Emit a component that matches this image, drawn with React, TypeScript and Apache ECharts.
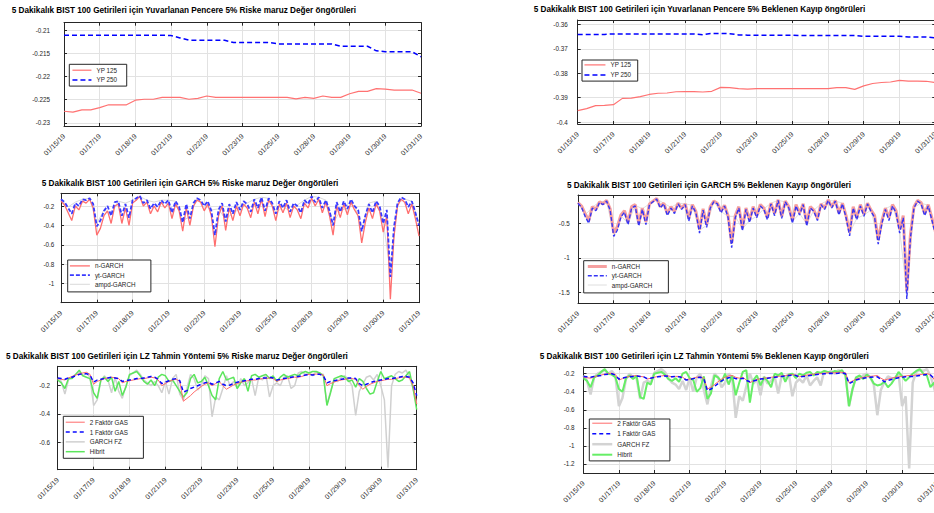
import React, { useEffect, useRef } from 'react';
import * as echarts from 'echarts';

const FONT = '"Liberation Sans", Arial, Helvetica, sans-serif';
const AX = '#262626';
const GRIDC = '#e2e2e2';

const dateLabels = ['01/15/19', '01/17/19', '01/18/19', '01/21/19', '01/22/19', '01/23/19', '01/25/19', '01/28/19', '01/29/19', '01/30/19', '01/31/19'];

const yTicksWinVaR = [-0.23, -0.225, -0.22, -0.215, -0.21];
const yTicksWinES = [-0.4, -0.39, -0.38, -0.37, -0.36];
const yTicksGarchVaR = [-1, -0.8, -0.6, -0.4, -0.2];
const yTicksGarchES = [-1.5, -1, -0.5];
const yTicksLzVaR = [-0.6, -0.4, -0.2];
const yTicksLzES = [-1.2, -1, -0.8, -0.6, -0.4, -0.2];

// Rolling window (Yuvarlanan Pencere)
const yp125VaR = [-0.2275, -0.2277, -0.2272, -0.2272, -0.2267, -0.2261, -0.2261, -0.2261, -0.2251, -0.2249, -0.2249, -0.2245, -0.2245, -0.2245, -0.2249, -0.2247, -0.2242, -0.2245, -0.2245, -0.2245, -0.2245, -0.2245, -0.2245, -0.2245, -0.2245, -0.2245, -0.2248, -0.2245, -0.2247, -0.2242, -0.2245, -0.2245, -0.2237, -0.2232, -0.2232, -0.2226, -0.2227, -0.2229, -0.2229, -0.2229, -0.2236];
const yp250VaR = [-0.211, -0.211, -0.211, -0.211, -0.211, -0.211, -0.211, -0.211, -0.211, -0.211, -0.211, -0.211, -0.2111, -0.2116, -0.2121, -0.2121, -0.2121, -0.2121, -0.2121, -0.2126, -0.2126, -0.2126, -0.2126, -0.2126, -0.2129, -0.2129, -0.2129, -0.2129, -0.2129, -0.2129, -0.2129, -0.2134, -0.2134, -0.2134, -0.2134, -0.2144, -0.2146, -0.2146, -0.2146, -0.2146, -0.2157];
const yp125ES = [-0.3953, -0.3945, -0.3933, -0.3932, -0.3929, -0.3903, -0.3902, -0.3896, -0.3887, -0.3882, -0.3881, -0.3876, -0.3875, -0.3875, -0.3877, -0.3874, -0.3858, -0.3859, -0.3863, -0.3865, -0.3863, -0.3863, -0.3863, -0.3863, -0.3863, -0.3863, -0.3863, -0.3863, -0.3863, -0.3859, -0.3859, -0.3866, -0.3852, -0.3842, -0.3838, -0.3836, -0.3829, -0.3832, -0.3832, -0.3833, -0.3838];
const yp250ES = [-0.3641, -0.3641, -0.3641, -0.3641, -0.3639, -0.3639, -0.3639, -0.3639, -0.3639, -0.3639, -0.3639, -0.3639, -0.3639, -0.3639, -0.3642, -0.3637, -0.3637, -0.3638, -0.3643, -0.3644, -0.3644, -0.3644, -0.3644, -0.3644, -0.3644, -0.3646, -0.3646, -0.3646, -0.3646, -0.3646, -0.3646, -0.3646, -0.3649, -0.3649, -0.3649, -0.3649, -0.3649, -0.3652, -0.3652, -0.3652, -0.3655];

// GARCH
const nGarchVaR = [
  -0.15, -0.19, -0.27, -0.35, -0.2, -0.24, -0.15, -0.17, -0.13, -0.22,
  -0.5, -0.43, -0.3, -0.25, -0.38, -0.2, -0.18, -0.38, -0.22, -0.4,
  -0.17, -0.14, -0.1, -0.2, -0.16, -0.28, -0.2, -0.26, -0.16, -0.22,
  -0.17, -0.33, -0.18, -0.25, -0.46, -0.22, -0.4, -0.2, -0.14, -0.16,
  -0.25, -0.18, -0.3, -0.62, -0.3, -0.2, -0.45, -0.22, -0.35, -0.2,
  -0.3, -0.18, -0.22, -0.32, -0.16, -0.28, -0.13, -0.31, -0.14, -0.2,
  -0.35, -0.18, -0.27, -0.17, -0.32, -0.2, -0.24, -0.33, -0.17, -0.22,
  -0.12, -0.2, -0.13, -0.27, -0.16, -0.3, -0.5, -0.2, -0.32, -0.18,
  -0.29, -0.16, -0.24, -0.3, -0.58, -0.37, -0.22, -0.33, -0.18, -0.25,
  -0.47, -0.3, -1.16, -0.52, -0.2, -0.13, -0.16, -0.28, -0.18, -0.33,
  -0.51];
const ytGarchVaR = [
  -0.13, -0.16, -0.22, -0.28, -0.17, -0.2, -0.13, -0.14, -0.12, -0.18,
  -0.41, -0.35, -0.25, -0.2, -0.3, -0.16, -0.15, -0.3, -0.18, -0.32,
  -0.14, -0.12, -0.095, -0.17, -0.14, -0.23, -0.17, -0.21, -0.14, -0.18,
  -0.14, -0.27, -0.15, -0.21, -0.37, -0.18, -0.33, -0.17, -0.12, -0.14,
  -0.2, -0.15, -0.25, -0.5, -0.24, -0.17, -0.36, -0.18, -0.28, -0.16,
  -0.24, -0.15, -0.18, -0.26, -0.13, -0.22, -0.11, -0.25, -0.12, -0.17,
  -0.28, -0.15, -0.22, -0.14, -0.26, -0.17, -0.2, -0.27, -0.14, -0.18,
  -0.1, -0.16, -0.11, -0.22, -0.14, -0.25, -0.4, -0.16, -0.26, -0.15,
  -0.23, -0.13, -0.2, -0.24, -0.46, -0.3, -0.18, -0.27, -0.15, -0.2,
  -0.38, -0.24, -0.93, -0.42, -0.17, -0.11, -0.13, -0.21, -0.15, -0.27,
  -0.4];
const ampdGarchVaR = [
  -0.13, -0.21, -0.16, -0.13, -0.12, -0.38, -0.24, -0.28, -0.15, -0.17,
  -0.14, -0.1, -0.14, -0.16, -0.14, -0.14, -0.15, -0.35, -0.31, -0.12,
  -0.19, -0.24, -0.23, -0.34, -0.27, -0.23, -0.17, -0.13, -0.11, -0.12,
  -0.27, -0.21, -0.25, -0.19, -0.14, -0.1, -0.11, -0.14, -0.38, -0.25,
  -0.22, -0.19, -0.44, -0.17, -0.15, -0.36, -0.88, -0.17, -0.13, -0.15,
  -0.38];
const nGarchES = [
  -0.2, -0.25, -0.36, -0.46, -0.26, -0.3, -0.19, -0.22, -0.17, -0.29,
  -0.64, -0.55, -0.38, -0.32, -0.48, -0.26, -0.23, -0.5, -0.28, -0.48,
  -0.22, -0.18, -0.14, -0.26, -0.21, -0.36, -0.26, -0.33, -0.21, -0.28,
  -0.22, -0.43, -0.23, -0.33, -0.59, -0.29, -0.52, -0.26, -0.18, -0.21,
  -0.32, -0.24, -0.39, -0.79, -0.39, -0.26, -0.57, -0.28, -0.45, -0.26,
  -0.39, -0.23, -0.28, -0.42, -0.21, -0.36, -0.16, -0.4, -0.18, -0.26,
  -0.46, -0.23, -0.35, -0.22, -0.5, -0.26, -0.31, -0.43, -0.22, -0.28,
  -0.16, -0.26, -0.17, -0.35, -0.21, -0.39, -0.63, -0.26, -0.42, -0.23,
  -0.37, -0.21, -0.31, -0.39, -0.74, -0.47, -0.28, -0.42, -0.23, -0.32,
  -0.59, -0.39, -1.48, -0.67, -0.26, -0.17, -0.2, -0.36, -0.23, -0.42,
  -0.62];
const ytGarchES = [
  -0.21, -0.27, -0.4, -0.5, -0.28, -0.32, -0.2, -0.23, -0.18, -0.31,
  -0.69, -0.6, -0.41, -0.34, -0.52, -0.28, -0.25, -0.54, -0.3, -0.52,
  -0.23, -0.19, -0.15, -0.28, -0.22, -0.39, -0.28, -0.36, -0.22, -0.3,
  -0.23, -0.47, -0.25, -0.35, -0.64, -0.31, -0.56, -0.28, -0.19, -0.22,
  -0.35, -0.25, -0.42, -0.85, -0.42, -0.28, -0.61, -0.3, -0.49, -0.28,
  -0.42, -0.25, -0.3, -0.45, -0.22, -0.39, -0.17, -0.43, -0.19, -0.28,
  -0.5, -0.25, -0.38, -0.23, -0.54, -0.28, -0.33, -0.46, -0.23, -0.3,
  -0.17, -0.28, -0.18, -0.38, -0.22, -0.42, -0.68, -0.28, -0.45, -0.25,
  -0.4, -0.22, -0.33, -0.42, -0.8, -0.51, -0.3, -0.46, -0.25, -0.35,
  -0.64, -0.42, -1.59, -0.72, -0.28, -0.18, -0.22, -0.39, -0.25, -0.45,
  -0.66];
const ampdGarchES = [
  -0.2, -0.38, -0.27, -0.19, -0.18, -0.65, -0.39, -0.5, -0.24, -0.29,
  -0.22, -0.15, -0.21, -0.27, -0.21, -0.22, -0.24, -0.6, -0.53, -0.19,
  -0.33, -0.4, -0.4, -0.58, -0.46, -0.4, -0.29, -0.21, -0.17, -0.19,
  -0.47, -0.36, -0.51, -0.31, -0.22, -0.17, -0.18, -0.21, -0.64, -0.43,
  -0.38, -0.31, -0.76, -0.29, -0.24, -0.6, -1.5, -0.27, -0.21, -0.24,
  -0.62];

// LZ
const gas2VaR = [
  -0.15, -0.155, -0.16, -0.145, -0.135, -0.125, -0.115, -0.11, -0.105, -0.12,
  -0.19, -0.17, -0.16, -0.15, -0.145, -0.14, -0.145, -0.15, -0.18, -0.17,
  -0.165, -0.16, -0.155, -0.15, -0.15, -0.145, -0.14, -0.145, -0.16, -0.2,
  -0.185, -0.17, -0.16, -0.155, -0.17, -0.31, -0.29, -0.27, -0.245, -0.225,
  -0.205, -0.19, -0.18, -0.2, -0.185, -0.17, -0.2, -0.225, -0.21, -0.195,
  -0.185, -0.175, -0.17, -0.165, -0.16, -0.16, -0.155, -0.15, -0.15, -0.145,
  -0.15, -0.17, -0.16, -0.155, -0.15, -0.145, -0.14, -0.14, -0.135, -0.125,
  -0.12, -0.12, -0.118, -0.118, -0.125, -0.2, -0.185, -0.175, -0.165, -0.16,
  -0.155, -0.15, -0.15, -0.155, -0.2, -0.225, -0.205, -0.19, -0.18, -0.17,
  -0.165, -0.16, -0.155, -0.155, -0.15, -0.145, -0.14, -0.14, -0.145, -0.2,
  -0.33];
const gas1VaR = [
  -0.145, -0.15, -0.155, -0.145, -0.14, -0.13, -0.12, -0.115, -0.115, -0.125,
  -0.175, -0.16, -0.155, -0.15, -0.145, -0.14, -0.145, -0.15, -0.17, -0.165,
  -0.16, -0.155, -0.15, -0.15, -0.145, -0.14, -0.135, -0.14, -0.155, -0.185,
  -0.175, -0.165, -0.155, -0.15, -0.165, -0.245, -0.235, -0.22, -0.21, -0.2,
  -0.19, -0.18, -0.175, -0.19, -0.18, -0.17, -0.19, -0.2, -0.195, -0.185,
  -0.175, -0.17, -0.165, -0.16, -0.155, -0.155, -0.15, -0.145, -0.145, -0.14,
  -0.145, -0.16, -0.155, -0.15, -0.145, -0.14, -0.135, -0.135, -0.13, -0.125,
  -0.122, -0.125, -0.12, -0.12, -0.13, -0.18, -0.17, -0.165, -0.16, -0.155,
  -0.15, -0.145, -0.145, -0.15, -0.185, -0.2, -0.19, -0.18, -0.17, -0.165,
  -0.16, -0.155, -0.15, -0.15, -0.145, -0.14, -0.135, -0.135, -0.14, -0.18,
  -0.27];
const garchFzVaR = [
  -0.15, -0.17, -0.26, -0.16, -0.14, -0.12, -0.1, -0.13, -0.11, -0.14,
  -0.34, -0.3, -0.17, -0.13, -0.16, -0.25, -0.14, -0.24, -0.29, -0.2,
  -0.13, -0.11, -0.09, -0.12, -0.16, -0.18, -0.2, -0.17, -0.2, -0.25,
  -0.17, -0.26, -0.15, -0.12, -0.26, -0.3, -0.22, -0.12, -0.15, -0.23,
  -0.2, -0.13, -0.15, -0.42, -0.28, -0.3, -0.22, -0.13, -0.2, -0.17,
  -0.22, -0.15, -0.2, -0.18, -0.15, -0.27, -0.14, -0.16, -0.12, -0.28,
  -0.2, -0.18, -0.2, -0.14, -0.13, -0.22, -0.2, -0.11, -0.1, -0.12,
  -0.11, -0.13, -0.1, -0.12, -0.12, -0.33, -0.24, -0.16, -0.17, -0.14,
  -0.13, -0.16, -0.2, -0.41, -0.24, -0.19, -0.14, -0.13, -0.16, -0.12,
  -0.2, -0.3, -0.78, -0.2, -0.12, -0.1, -0.11, -0.09, -0.14, -0.22,
  -0.33];
const hibritVaR = [
  -0.16, -0.18, -0.22, -0.15, -0.15, -0.12, -0.09, -0.13, -0.14, -0.15,
  -0.25, -0.29, -0.16, -0.14, -0.17, -0.14, -0.24, -0.17, -0.27, -0.21,
  -0.12, -0.11, -0.1, -0.13, -0.17, -0.19, -0.16, -0.2, -0.14, -0.12,
  -0.13, -0.17, -0.16, -0.2, -0.24, -0.28, -0.25, -0.15, -0.12, -0.18,
  -0.17, -0.14, -0.2, -0.27, -0.3, -0.15, -0.1, -0.16, -0.15, -0.14,
  -0.22, -0.18, -0.15, -0.24, -0.13, -0.12, -0.14, -0.13, -0.12, -0.15,
  -0.13, -0.17, -0.14, -0.12, -0.14, -0.13, -0.12, -0.13, -0.11, -0.1,
  -0.11, -0.1, -0.1, -0.11, -0.13, -0.34, -0.25, -0.15, -0.14, -0.13,
  -0.14, -0.17, -0.16, -0.21, -0.15, -0.17, -0.22, -0.26, -0.25, -0.17,
  -0.1, -0.15, -0.14, -0.13, -0.15, -0.17, -0.16, -0.13, -0.1, -0.22,
  -0.37];
const gas2ES = [
  -0.24, -0.245, -0.25, -0.235, -0.225, -0.215, -0.205, -0.2, -0.195, -0.21,
  -0.27, -0.255, -0.24, -0.23, -0.225, -0.22, -0.23, -0.235, -0.26, -0.25,
  -0.24, -0.23, -0.225, -0.22, -0.225, -0.235, -0.23, -0.23, -0.24, -0.265,
  -0.26, -0.25, -0.24, -0.235, -0.25, -0.37, -0.35, -0.32, -0.29, -0.26,
  -0.24, -0.225, -0.22, -0.24, -0.25, -0.24, -0.27, -0.3, -0.28, -0.265,
  -0.255, -0.25, -0.245, -0.24, -0.235, -0.23, -0.225, -0.22, -0.215, -0.21,
  -0.215, -0.235, -0.225, -0.215, -0.21, -0.205, -0.2, -0.2, -0.195, -0.19,
  -0.19, -0.19, -0.185, -0.185, -0.19, -0.3, -0.28, -0.26, -0.25, -0.24,
  -0.235, -0.23, -0.225, -0.22, -0.25, -0.27, -0.26, -0.25, -0.24, -0.235,
  -0.23, -0.225, -0.22, -0.22, -0.215, -0.21, -0.205, -0.2, -0.21, -0.26,
  -0.34];
const gas1ES = [
  -0.23, -0.235, -0.24, -0.23, -0.225, -0.22, -0.21, -0.205, -0.2, -0.215,
  -0.26, -0.25, -0.24, -0.235, -0.23, -0.225, -0.23, -0.235, -0.255, -0.25,
  -0.24, -0.235, -0.23, -0.225, -0.23, -0.235, -0.23, -0.235, -0.245, -0.27,
  -0.265, -0.255, -0.245, -0.24, -0.255, -0.39, -0.37, -0.34, -0.31, -0.28,
  -0.26, -0.245, -0.24, -0.255, -0.26, -0.25, -0.275, -0.29, -0.28, -0.27,
  -0.26, -0.255, -0.25, -0.245, -0.24, -0.235, -0.23, -0.225, -0.22, -0.215,
  -0.22, -0.24, -0.23, -0.225, -0.22, -0.215, -0.21, -0.205, -0.2, -0.2,
  -0.195, -0.2, -0.195, -0.19, -0.2, -0.31, -0.29, -0.27, -0.26, -0.25,
  -0.245, -0.24, -0.235, -0.235, -0.26, -0.29, -0.275, -0.265, -0.255, -0.245,
  -0.24, -0.235, -0.23, -0.23, -0.225, -0.22, -0.215, -0.21, -0.215, -0.25,
  -0.31];
const garchFzES = [
  -0.22, -0.28, -0.43, -0.24, -0.2, -0.18, -0.16, -0.2, -0.17, -0.22,
  -0.56, -0.47, -0.26, -0.2, -0.24, -0.25, -0.48, -0.3, -0.28, -0.3,
  -0.19, -0.17, -0.15, -0.18, -0.25, -0.3, -0.32, -0.37, -0.28, -0.38,
  -0.25, -0.4, -0.24, -0.2, -0.38, -0.54, -0.34, -0.2, -0.24, -0.35,
  -0.3, -0.2, -0.24, -0.69, -0.45, -0.5, -0.34, -0.2, -0.31, -0.26,
  -0.44, -0.23, -0.31, -0.28, -0.23, -0.42, -0.22, -0.25, -0.2, -0.45,
  -0.3, -0.26, -0.3, -0.22, -0.33, -0.28, -0.24, -0.33, -0.17, -0.19,
  -0.17, -0.2, -0.16, -0.19, -0.2, -0.56, -0.37, -0.24, -0.26, -0.22,
  -0.2, -0.24, -0.32, -0.66, -0.38, -0.29, -0.23, -0.25, -0.25, -0.2,
  -0.56, -0.45, -1.25, -0.3, -0.18, -0.16, -0.17, -0.15, -0.22, -0.35,
  -0.5];
const hibritES = [
  -0.25, -0.28, -0.35, -0.24, -0.22, -0.18, -0.15, -0.2, -0.21, -0.24,
  -0.37, -0.4, -0.25, -0.22, -0.26, -0.22, -0.46, -0.48, -0.3, -0.32,
  -0.2, -0.19, -0.18, -0.21, -0.26, -0.28, -0.25, -0.29, -0.2, -0.18,
  -0.25, -0.27, -0.4, -0.36, -0.23, -0.48, -0.42, -0.22, -0.24, -0.29,
  -0.2, -0.32, -0.22, -0.44, -0.3, -0.18, -0.16, -0.52, -0.27, -0.22,
  -0.33, -0.24, -0.28, -0.35, -0.2, -0.22, -0.19, -0.29, -0.21, -0.2,
  -0.25, -0.2, -0.22, -0.19, -0.18, -0.22, -0.18, -0.19, -0.17, -0.18,
  -0.19, -0.17, -0.18, -0.16, -0.22, -0.56, -0.37, -0.24, -0.22, -0.26,
  -0.21, -0.24, -0.31, -0.33, -0.32, -0.29, -0.35, -0.31, -0.25, -0.18,
  -0.23, -0.28, -0.24, -0.2, -0.17, -0.15, -0.2, -0.22, -0.35, -0.3,
  -0.45];

type S = { name: string; data: number[]; color: string; width: number; dash?: number[] };
type Panel = {
  rect: [number, number, number, number];
  yMin: number; yMax: number; yTicks: number[]; yMargin: number;
  title: string; tx: number; ty: number;
  lg: { left: number; top: number; itemWidth: number; itemGap: number; padding: number[] };
  series: S[];
  order: string[];
};

const T1 = '5 Dakikalık BIST 100 Getirileri için Yuvarlanan Pencere 5% Riske maruz Değer öngörüleri';
const T2 = '5 Dakikalık BIST 100 Getirileri için Yuvarlanan Pencere 5% Beklenen Kayıp öngörüleri';
const T3 = '5 Dakikalık BIST 100 Getirileri için GARCH 5% Riske maruz Değer öngörüleri';
const T4 = '5 Dakikalık BIST 100 Getirileri için GARCH 5% Beklenen Kayıp öngörüleri';
const T5 = '5 Dakikalık BIST 100 Getirileri için LZ Tahmin Yöntemi 5% Riske maruz Değer öngörüleri';
const T6 = '5 Dakikalık BIST 100 Getirileri için LZ Tahmin Yöntemi 5% Beklenen Kayıp öngörüleri';

const panels: Panel[] = [
  {
    rect: [64, 22.7, 357, 103.3], yMin: -0.2307, yMax: -0.2083, yTicks: yTicksWinVaR, yMargin: 14,
    title: T1, tx: 11.7, ty: 11.2,
    lg: { left: 69.3, top: 64.3, itemWidth: 19, itemGap: 3.3, padding: [2.7, 9.6, 3, 2.4] },
    series: [
      { name: 'YP 125', data: yp125VaR, color: '#ff7272', width: 1.2 },
      { name: 'YP 250', data: yp250VaR, color: '#0000ff', width: 1.5, dash: [5, 3] },
    ],
    order: ['YP 125', 'YP 250'],
  },
  {
    rect: [577.7, 20, 357.5, 104], yMin: -0.4008, yMax: -0.3582, yTicks: yTicksWinES, yMargin: 10,
    title: T2, tx: 533.7, ty: 10.6,
    lg: { left: 582, top: 60, itemWidth: 21, itemGap: 3.6, padding: [1.7, 6.6, 3, 1.7] },
    series: [
      { name: 'YP 125', data: yp125ES, color: '#ff7272', width: 1.2 },
      { name: 'YP 250', data: yp250ES, color: '#0000ff', width: 1.5, dash: [5, 3] },
    ],
    order: ['YP 125', 'YP 250'],
  },
  {
    rect: [61, 193.3, 358, 109.4], yMin: -1.196, yMax: -0.069, yTicks: yTicksGarchVaR, yMargin: 6.7,
    title: T3, tx: 41.7, ty: 184.3,
    lg: { left: 67.7, top: 260, itemWidth: 20, itemGap: 2.8, padding: [2.7, 15.4, 4.4, 1.3] },
    series: [
      { name: 'ampd-GARCH', data: ampdGarchVaR, color: '#cfcfcf', width: 0.8 },
      { name: 'n-GARCH', data: nGarchVaR, color: '#ff6f6f', width: 1.3 },
      { name: 'yt-GARCH', data: ytGarchVaR, color: '#3a3aff', width: 1.8, dash: [4, 2] },
    ],
    order: ['n-GARCH', 'yt-GARCH', 'ampd-GARCH'],
  },
  {
    rect: [578, 195, 357.4, 108.3], yMin: -1.653, yMax: -0.092, yTicks: yTicksGarchES, yMargin: 8.3,
    title: T4, tx: 567, ty: 186.3,
    lg: { left: 583.7, top: 260.7, itemWidth: 19, itemGap: 2.85, padding: [2.6, 16, 4.7, 2.6] },
    series: [
      { name: 'ampd-GARCH', data: ampdGarchES, color: '#d6d6d6', width: 0.8 },
      { name: 'n-GARCH', data: nGarchES, color: '#f5a0a0', width: 3 },
      { name: 'yt-GARCH', data: ytGarchES, color: '#3535f5', width: 1.4, dash: [4, 2] },
    ],
    order: ['n-GARCH', 'yt-GARCH', 'ampd-GARCH'],
  },
  {
    rect: [57.7, 366.3, 359, 103.4], yMin: -0.794, yMax: -0.063, yTicks: yTicksLzVaR, yMargin: 7.7,
    title: T5, tx: 6, ty: 357.6,
    lg: { left: 63.3, top: 416.3, itemWidth: 19, itemGap: 3.43, padding: [2.7, 15.5, 3.4, 1.7] },
    series: [
      { name: 'GARCH FZ', data: garchFzVaR, color: '#d0d0d0', width: 1.5 },
      { name: 'Hibrit', data: hibritVaR, color: '#5ce65c', width: 1.5 },
      { name: '2 Faktör GAS', data: gas2VaR, color: '#ff6b6b', width: 1 },
      { name: '1 Faktör GAS', data: gas1VaR, color: '#0a0aff', width: 1.5, dash: [4, 3] },
    ],
    order: ['2 Faktör GAS', '1 Faktör GAS', 'GARCH FZ', 'Hibrit'],
  },
  {
    rect: [583.5, 367, 354, 106], yMin: -1.3, yMax: -0.126, yTicks: yTicksLzES, yMargin: 9,
    title: T6, tx: 539.7, ty: 357.6,
    lg: { left: 589.3, top: 419, itemWidth: 20, itemGap: 4.1, padding: [1, 14.5, 3, 1.7] },
    series: [
      { name: 'GARCH FZ', data: garchFzES, color: '#d3d3d3', width: 2.5 },
      { name: 'Hibrit', data: hibritES, color: '#66ee66', width: 2 },
      { name: '2 Faktör GAS', data: gas2ES, color: '#ff6b6b', width: 1 },
      { name: '1 Faktör GAS', data: gas1ES, color: '#0a0aff', width: 1.5, dash: [4, 3] },
    ],
    order: ['2 Faktör GAS', '1 Faktör GAS', 'GARCH FZ', 'Hibrit'],
  },
];

const toXY = (arr: number[]) => arr.map((v, i) => [(i * 10) / (arr.length - 1), v]);
const fmtY = (v: number) => String(+Number(v).toFixed(4));

function buildOption() {
  const grid: any[] = [];
  const xAxis: any[] = [];
  const yAxis: any[] = [];
  const series: any[] = [];
  const legend: any[] = [];
  const title: any[] = [];
  const axisLine = { show: true, onZero: false, lineStyle: { color: AX, width: 1 } };
  const tick = { show: true, inside: true, length: 3, lineStyle: { color: AX, width: 1 } };

  panels.forEach((p, i) => {
    grid.push({ left: p.rect[0], top: p.rect[1], width: p.rect[2], height: p.rect[3], containLabel: false, outerBoundsMode: 'none', show: false });
    xAxis.push({
      type: 'value', gridIndex: i, position: 'bottom', min: 0, max: 10, interval: 1,
      axisLine, axisTick: tick,
      axisLabel: {
        rotate: 45, fontSize: 7, color: AX, fontFamily: FONT, margin: 9, showMinLabel: true, showMaxLabel: true,
        formatter: (v: number) => dateLabels[Math.round(v)] ?? '',
      },
      splitLine: { show: true, lineStyle: { color: GRIDC, width: 1 } },
    });
    xAxis.push({
      type: 'value', gridIndex: i, position: 'top', min: 0, max: 10, interval: 1,
      axisLine, axisTick: tick, axisLabel: { show: false }, splitLine: { show: false },
    });
    yAxis.push({
      type: 'value', gridIndex: i, position: 'left', min: p.yMin, max: p.yMax,
      axisLine, axisTick: { ...tick, customValues: p.yTicks },
      axisLabel: { customValues: p.yTicks, fontSize: 6.3, color: AX, fontFamily: FONT, margin: p.yMargin, formatter: fmtY, showMinLabel: true, showMaxLabel: true },
      splitLine: { show: true, lineStyle: { color: GRIDC, width: 1 } },
    });
    yAxis.push({
      type: 'value', gridIndex: i, position: 'right', min: p.yMin, max: p.yMax,
      axisLine, axisTick: { ...tick, customValues: p.yTicks },
      axisLabel: { show: false, customValues: p.yTicks }, splitLine: { show: false },
    });
    p.series.forEach((s) => {
      series.push({
        type: 'line', name: s.name, xAxisIndex: 2 * i, yAxisIndex: 2 * i,
        data: toXY(s.data), symbol: 'none', showSymbol: false, silent: true, animation: false,
        lineStyle: { color: s.color, width: s.width, type: s.dash ?? 'solid' },
        itemStyle: { color: s.color },
      });
    });
    legend.push({
      show: true, orient: 'vertical', left: p.lg.left, top: p.lg.top,
      itemWidth: p.lg.itemWidth, itemHeight: 8, itemGap: p.lg.itemGap, padding: p.lg.padding,
      backgroundColor: '#ffffff', borderColor: AX, borderWidth: 1, borderRadius: 0,
      selectedMode: false, align: 'left',
      textStyle: { fontSize: 6.3, color: AX, fontFamily: FONT },
      data: p.order.map((name) => {
        const s = p.series.find((x) => x.name === name)!;
        return {
          name,
          itemStyle: { color: s.color, opacity: 0 },
          lineStyle: { color: s.color, width: s.width, type: s.dash ?? 'solid', opacity: 1 },
        };
      }),
    });
    title.push({
      text: p.title, left: p.tx, top: p.ty - 5, padding: 0,
      textStyle: { fontSize: 8.2, fontWeight: 'bold', color: '#000', fontFamily: FONT },
    });
  });

  return { animation: false, backgroundColor: '#ffffff', textStyle: { fontFamily: FONT }, grid, xAxis, yAxis, series, legend, title };
}

export default function App() {
  const ref = useRef<HTMLDivElement>(null);
  useEffect(() => {
    document.body.style.margin = '0';
    const chart = echarts.init(ref.current!, undefined, { renderer: 'svg' });
    chart.setOption(buildOption() as any);
    return () => chart.dispose();
  }, []);
  return (
    <div style={{ width: 934, height: 513, overflow: 'hidden', background: '#ffffff' }}>
      <div ref={ref} style={{ width: 945, height: 513 }} />
    </div>
  );
}
